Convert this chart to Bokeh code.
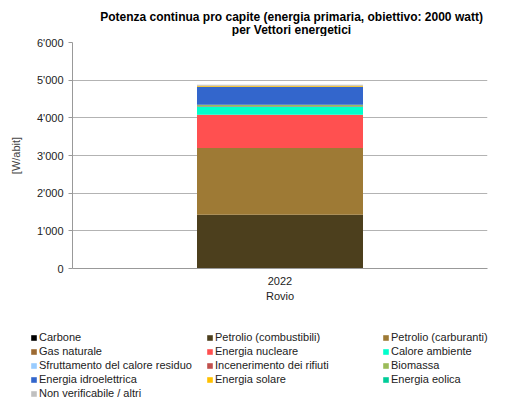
from bokeh.plotting import figure
from bokeh.layouts import column
from bokeh.models import (ColumnDataSource, FactorRange, Range1d, FixedTicker,
                          CustomJSTickFormatter, Legend, LegendItem, Label)
from bokeh.embed import file_html
from bokeh.resources import INLINE

# ---- data ----
comuni = ["Rovio"]
anni = ["2022"]
serie = ["Carbone", "Petrolio (combustibili)", "Petrolio (carburanti)", "Gas naturale",
         "Energia nucleare", "Calore ambiente", "Sfruttamento del calore residuo",
         "Incenerimento dei rifiuti", "Biomassa", "Energia idroelettrica",
         "Energia solare", "Energia eolica", "Non verificabile / altri"]
valori = [0, 1430, 1770, 0,
          884, 220, 0,
          12, 30, 480,
          25, 0, 25]
colori = ["#000000", "#4C3F1D", "#9E7A35", "#9C6A32",
          "#FF5050", "#00FFCC", "#99CCFF",
          "#C0504D", "#9BBB59", "#3366CC",
          "#FFC000", "#00CC99", "#C0C0C0"]
y_ticks = [0, 1000, 2000, 3000, 4000, 5000, 6000]
titolo = ["Potenza continua pro capite (energia primaria, obiettivo: 2000 watt)",
          "per Vettori energetici"]

FONT = "Liberation Sans"
W = 508


def blank(h):
    f = figure(width=W, height=h, output_backend="svg", toolbar_location=None,
               x_range=Range1d(0, W), y_range=Range1d(0, h),
               x_axis_location=None, y_axis_location=None,
               min_border=0, min_border_left=0, min_border_right=0,
               min_border_top=0, min_border_bottom=0, frame_align=False)
    f.outline_line_color = None
    f.xgrid.grid_line_color = None
    f.ygrid.grid_line_color = None
    return f


# ---- title ----
TH = 36
tf = blank(TH)
for txt, yc in zip(titolo, [TH - 16, TH - 29.5]):
    tf.add_layout(Label(x=291, y=yc, x_units="data", y_units="data", text=txt,
                        text_align="center", text_baseline="middle",
                        text_font=FONT, text_font_size="12px", text_font_style="bold",
                        text_color="#000000"))

# ---- main chart ----
keys = ["s%d" % i for i in range(len(serie))]
data = {"x": [(comuni[0], anni[0])]}
for k, v in zip(keys, valori):
    data[k] = [v]
source = ColumnDataSource(data)

MH = 282
p = figure(width=W, height=MH, output_backend="svg", toolbar_location=None,
           x_range=FactorRange(factors=[(comuni[0], anni[0])]),
           y_range=Range1d(0, 6000), frame_align=False,
           min_border_left=72, min_border_right=21, min_border_top=6, min_border_bottom=50)
p.outline_line_color = None

rs = p.vbar_stack(keys, x="x", width=0.4, color=colori, line_color=None, source=source)

p.yaxis.ticker = FixedTicker(ticks=y_ticks)
p.yaxis.formatter = CustomJSTickFormatter(code="""
return tick.toFixed(0).replace(/\\B(?=(\\d{3})+(?!\\d))/g, "'");
""")
p.yaxis.axis_label = "[W/abit]"
p.yaxis.axis_label_text_font = FONT
p.yaxis.axis_label_text_font_size = "11px"
p.yaxis.axis_label_text_font_style = "normal"
p.yaxis.axis_label_standoff = 12
p.yaxis.major_label_text_font = FONT
p.yaxis.major_label_text_font_size = "11px"
p.yaxis.major_label_text_color = "#222222"
p.yaxis.axis_line_color = "#999999"
p.yaxis.major_tick_line_color = "#999999"
p.yaxis.major_tick_out = 4
p.yaxis.major_tick_in = 0
p.yaxis.minor_tick_line_color = None

p.xaxis.axis_line_color = "#999999"
p.xaxis.major_tick_line_color = None
p.xaxis.minor_tick_line_color = None
p.xaxis.major_label_standoff = 2
p.xaxis.major_label_text_font = FONT
p.xaxis.major_label_text_font_size = "11px"
p.xaxis.major_label_text_color = "#222222"
p.xaxis.group_text_font = FONT
p.xaxis.group_text_font_size = "11px"
p.xaxis.group_text_font_style = "normal"
p.xaxis.group_text_color = "#222222"
p.xaxis.major_label_orientation = "horizontal"
p.xaxis.group_label_orientation = "horizontal"

p.xgrid.grid_line_color = None
p.ygrid.grid_line_color = "#B3B3B3"
p.ygrid.grid_line_width = 1

# ---- legend (proxy renderers placed outside the visible range) ----
LH = 402 - TH - MH
lf = blank(LH)
lrs = [lf.vbar(x=[-100], top=[0], bottom=[0], width=1, color=c, line_color=None)
       for c in colori]
items = [LegendItem(label=s, renderers=[r]) for s, r in zip(serie, lrs)]
legend = Legend(items=items, location=(30, 2), orientation="horizontal", ncols=3,
                glyph_width=7, glyph_height=7, label_standoff=2, spacing=0,
                padding=0, margin=0, label_width=167, label_height=14,
                label_text_font=FONT, label_text_font_size="11px", label_text_color="#222222",
                border_line_alpha=0, background_fill_alpha=0)
lf.add_layout(legend, "center")

layout = column(tf, p, lf, spacing=0)
open("out.html", "w").write(file_html(layout, INLINE))
